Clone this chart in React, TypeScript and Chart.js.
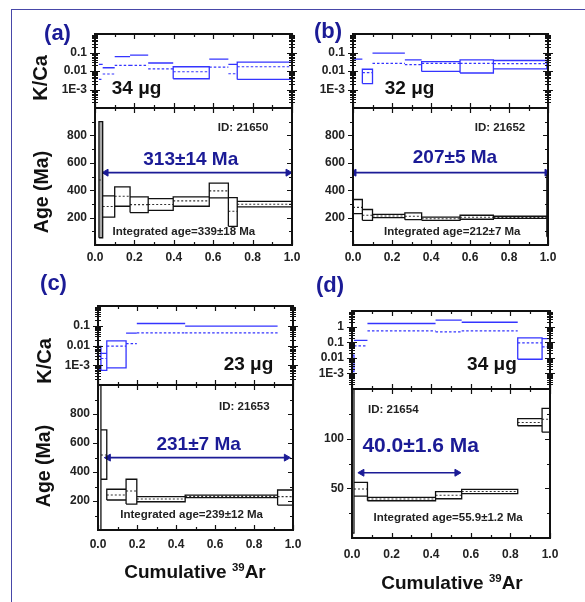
import React, { useEffect, useRef } from "react";
import { Chart, registerables } from "chart.js";
Chart.register(...registerables);

const FONT = "'Liberation Sans', Arial, Helvetica, sans-serif";
const NAVY = "#1b1b96";
const KCA_BLUE = "#3434ff";

// ---------------- Panel (a) : ID 21650 ----------------
const edgesA = [0.02, 0.039, 0.1, 0.178, 0.27, 0.397, 0.58, 0.677, 0.722, 1.0];
const ageMidA = [475, 281, 356, 295, 296, 322, 395, 246, 297];
const ageLowA = [53, 204, 283, 237, 253, 283, 344, 136, 278];
const ageHighA = [900, 358, 424, 351, 339, 351, 451, 346, 319];
const kcaMidA = [0.0035, 0.0069, 0.02, 0.02, 0.013, 0.0091, 0.016, 0.0071, 0.017];
const kcaLowA = [null, null, null, null, null, 0.0038, null, null, 0.0035];
const kcaHighA = [0.023, 0.015, 0.06, 0.072, 0.027, 0.017, 0.044, 0.023, 0.03];
const plateauSpanA = [0.056, 0.98];
const plateauAgeA = 528;

// ---------------- Panel (b) : ID 21652 ----------------
const edgesB = [0, 0.048, 0.1, 0.266, 0.352, 0.549, 0.72, 0.994, 1.0];
const ageMidB = [275, 217, 212, 210, 192, 203, 202, 280];
const ageLowB = [229, 180, 200, 185, 180, 188, 195, 60];
const ageHighB = [332, 259, 224, 234, 204, 217, 210, 510];
const kcaMidB = [null, 0.0081, 0.026, 0.022, 0.026, 0.026, 0.025, null];
const kcaLowB = [null, 0.0021, null, null, 0.0095, 0.0078, 0.013, null];
const kcaHighB = [0.044, 0.0124, 0.093, 0.04, 0.032, 0.04, 0.037, 0.04];
const plateauSpanB = [0.005, 0.995];
const plateauAgeB = 528;

// ---------------- Panel (c) : ID 21653 ----------------
const edgesC = [0, 0.015, 0.045, 0.144, 0.199, 0.447, 0.921, 1.0];
const ageMidC = [null, 517, 241, 269, 214, 232, 230];
const ageLowC = [0, 350, 207, 179, 195, 223, 172];
const ageHighC = [1100, 690, 281, 350, 230, 241, 276];
const kcaMidC = [0.003, 0.0022, 0.0094, 0.0124, 0.044, 0.044, null];
const kcaLowC = [0.0006, 0.00055, 0.00073, null, null, null, null];
const kcaHighC = [0.009, 0.004, 0.017, 0.042, 0.13, 0.096, null];
const plateauSpanC = [0.053, 0.966];
const plateauAgeC = 499;

// ---------------- Panel (d) : ID 21654 ----------------
const edgesD = [0, 0.01, 0.078, 0.422, 0.554, 0.837, 0.96, 1.0];
const ageMidD = [null, 49.3, 39.2, 43, 46.8, 116.3, 119.6];
const ageLowD = [5, 42.2, 37.5, 39.5, 44.7, 113, 106.5];
const ageHighD = [160, 55.9, 40.8, 46.7, 49, 120.2, 130.4];
const kcaMidD = [null, 0.058, 0.53, 0.46, 0.53, 0.091, 0.05];
const kcaLowD = [0.0013, null, null, null, null, 0.0081, null];
const kcaHighD = [0.015, 0.13, 1.58, 2.57, 1.9, 0.19, 0.17];
const plateauSpanD = [0.05, 0.53];
const plateauAgeD = 65.7;

// ---------------- axis ticks ----------------
const xTickLabels = [0, 0.2, 0.4, 0.6, 0.8, 1.0];
const ageTicksWide = [200, 400, 600, 800];
const ageTicksD = [50, 100];
const kcaTicks = [0.1, 0.01, 0.001];
const kcaTickText = ["0.1", "0.01", "1E-3"];
const kcaTicksD = [1, 0.1, 0.01, 0.001];
const kcaTickTextD = ["1", "0.1", "0.01", "1E-3"];

type Pt = { x: number; y: number | null };
type Ann = { text: string; x: number; y: number; align: CanvasTextAlign; size: number; color: string };
type Rect = { l: number; t: number; r: number; b: number };

function boxPts(edges: number[], lo: (number | null)[], hi: (number | null)[]): Pt[] {
  const pts: Pt[] = [];
  for (let i = 0; i < hi.length; i++) {
    const x0 = edges[i];
    const x1 = edges[i + 1];
    const h = hi[i];
    const l = lo[i];
    if (h == null) continue;
    if (l == null) {
      pts.push({ x: x0, y: h }, { x: x1, y: h }, { x: x1, y: null });
    } else {
      pts.push({ x: x0, y: l }, { x: x0, y: h }, { x: x1, y: h }, { x: x1, y: l }, { x: x0, y: l }, { x: x1, y: null });
    }
  }
  return pts;
}

function midPts(edges: number[], mid: (number | null)[]): Pt[] {
  const pts: Pt[] = [];
  for (let i = 0; i < mid.length; i++) {
    const m = mid[i];
    if (m == null) continue;
    pts.push({ x: edges[i], y: m }, { x: edges[i + 1], y: m }, { x: edges[i + 1], y: null });
  }
  return pts;
}

const lineDs = (data: Pt[], color: string, width: number, dash: number[] = []) => ({
  data,
  showLine: true,
  borderColor: color,
  borderWidth: width,
  borderDash: dash,
  pointRadius: 0,
  pointHoverRadius: 0,
  spanGaps: false,
  tension: 0,
  fill: false,
});

type SubProps = {
  rect: Rect;
  isAge: boolean;
  yMin: number;
  yMax: number;
  yLabelVals: number[];
  yLabelText: string[];
  yMajor?: number;
  xPad?: number;
  datasets: any[];
  anns: Ann[];
};

const PADL = 60;
const PADT = 24;
const PADR = 22;

function SubPlot(p: SubProps) {
  const ref = useRef<HTMLCanvasElement>(null);
  const padB = p.isAge ? 34 : 24;
  const w = p.rect.r - p.rect.l + PADL + PADR;
  const h = p.rect.b - p.rect.t + PADT + padB;

  useEffect(() => {
    const tickFont = { family: FONT, size: 12, weight: "bold" as const };
    const yMarks: { v: number; major: boolean }[] = [];
    if (p.isAge) {
      const maj = p.yMajor as number;
      const minStep = maj / 2;
      for (let v = p.yMin; v <= p.yMax + 1e-9; v += minStep) {
        yMarks.push({ v, major: Math.abs(v / maj - Math.round(v / maj)) < 1e-6 });
      }
    } else {
      const k0 = Math.floor(Math.log10(p.yMin));
      const k1 = Math.ceil(Math.log10(p.yMax));
      for (let k = k0; k <= k1; k++) {
        for (let m = 1; m <= 9; m++) {
          const v = m * Math.pow(10, k);
          if (v >= p.yMin * 0.999 && v <= p.yMax * 1.001) yMarks.push({ v, major: m === 1 });
        }
      }
    }

    const framePlugin = {
      id: "frame",
      afterDatasetsDraw(chart: any) {
        const { ctx, chartArea: a } = chart;
        const xs = chart.scales.x;
        const ys = chart.scales.y;
        ctx.save();
        ctx.strokeStyle = "#111";
        ctx.lineWidth = 1.2;
        ctx.beginPath();
        for (let i = 0; i <= 10; i++) {
          const px = Math.round(xs.getPixelForValue(i / 10)) + 0.5;
          const L = i % 2 === 0 ? 5 : 3;
          ctx.moveTo(px, a.bottom);
          ctx.lineTo(px, a.bottom - L);
          ctx.moveTo(px, a.top);
          ctx.lineTo(px, a.top + L);
        }
        for (const mk of yMarks) {
          const py = Math.round(ys.getPixelForValue(mk.v)) + 0.5;
          if (py < a.top + 1 || py > a.bottom - 1) continue;
          const L = mk.major ? 5 : 3;
          const inL = p.isAge ? 0 : L;
          ctx.moveTo(a.left - L, py);
          ctx.lineTo(a.left + inL, py);
          ctx.moveTo(a.right - L, py);
          ctx.lineTo(a.right + inL, py);
        }
        ctx.stroke();
        ctx.lineWidth = 2;
        ctx.strokeRect(a.left, a.top, a.right - a.left, a.bottom - a.top);
        for (const an of p.anns) {
          ctx.font = `bold ${an.size}px ${FONT}`;
          ctx.fillStyle = an.color;
          ctx.textAlign = an.align;
          ctx.textBaseline = "middle";
          ctx.fillText(an.text, xs.getPixelForValue(an.x), ys.getPixelForValue(an.y));
        }
        ctx.restore();
      },
    };

    const chart = new Chart(ref.current as HTMLCanvasElement, {
      type: "scatter",
      data: { datasets: p.datasets },
      options: {
        animation: false,
        responsive: false,
        maintainAspectRatio: false,
        events: [],
        layout: { padding: { left: 0, top: PADT, right: PADR, bottom: p.isAge ? 0 : padB } },
        plugins: { legend: { display: false }, tooltip: { enabled: false } },
        scales: {
          x: {
            type: "linear",
            min: 0,
            max: 1,
            display: p.isAge,
            grid: { display: false, drawTicks: false },
            border: { display: false },
            afterBuildTicks: (s: any) => {
              s.ticks = xTickLabels.map((v) => ({ value: v }));
            },
            ticks: {
              font: tickFont,
              color: "#222",
              padding: p.xPad ?? 5,
              maxRotation: 0,
              autoSkip: false,
              callback: (v: any) => Number(v).toFixed(1),
            },
            ...(p.isAge ? { afterFit: (s: any) => { s.height = padB; } } : {}),
          },
          y: {
            type: p.isAge ? "linear" : "logarithmic",
            min: p.yMin,
            max: p.yMax,
            grid: { display: false, drawTicks: false },
            border: { display: false },
            afterBuildTicks: (s: any) => {
              s.ticks = p.yLabelVals.map((v) => ({ value: v }));
            },
            afterFit: (s: any) => {
              s.width = PADL;
            },
            ticks: {
              font: tickFont,
              color: "#222",
              padding: 8,
              autoSkip: false,
              callback: (v: any) => {
                const i = p.yLabelVals.findIndex((u) => Math.abs(u - Number(v)) < 1e-9 * Math.max(1, Math.abs(u)));
                return i >= 0 ? p.yLabelText[i] : "";
              },
            },
          },
        },
      } as any,
      plugins: [framePlugin],
    });
    return () => chart.destroy();
  }, []);

  return (
    <canvas
      ref={ref}
      width={w}
      height={h}
      style={{ position: "absolute", left: p.rect.l - PADL, top: p.rect.t - PADT, width: w, height: h }}
    />
  );
}

type PanelDef = {
  key: string;
  kcaRect: Rect;
  ageRect: Rect;
  xPad: number;
  edges: number[];
  ageMid: (number | null)[];
  ageLow: number[];
  ageHigh: number[];
  kcaMid: (number | null)[];
  kcaLow: (number | null)[];
  kcaHigh: (number | null)[];
  shadeFirst: boolean;
  plateauSpan: number[];
  plateauAge: number;
  ageMax: number;
  ageLabels: number[];
  ageMajor: number;
  kcaMax: number;
  kcaLabels: number[];
  kcaText: string[];
  ageAnns: Ann[];
  kcaAnns: Ann[];
};

const panels: PanelDef[] = [
  {
    key: "a",
    kcaRect: { l: 95, t: 34, r: 292, b: 108 },
    ageRect: { l: 95, t: 108, r: 292, b: 245 },
    xPad: 5,
    edges: edgesA, ageMid: ageMidA, ageLow: ageLowA, ageHigh: ageHighA,
    kcaMid: kcaMidA, kcaLow: kcaLowA, kcaHigh: kcaHighA, shadeFirst: true,
    plateauSpan: plateauSpanA, plateauAge: plateauAgeA,
    ageMax: 1000, ageLabels: ageTicksWide, ageMajor: 200,
    kcaMax: 1, kcaLabels: kcaTicks, kcaText: kcaTickText,
    ageAnns: [
      { text: "313±14 Ma", x: 0.486, y: 620, align: "center", size: 19, color: NAVY },
      { text: "ID: 21650", x: 0.88, y: 852, align: "right", size: 11.5, color: "#222" },
      { text: "Integrated age=339±18 Ma", x: 0.451, y: 93, align: "center", size: 11.5, color: "#222" },
    ],
    kcaAnns: [{ text: "34 μg", x: 0.085, y: 0.0011, align: "left", size: 19, color: "#111" }],
  },
  {
    key: "b",
    kcaRect: { l: 353, t: 34, r: 548, b: 108 },
    ageRect: { l: 353, t: 108, r: 548, b: 245 },
    xPad: 5,
    edges: edgesB, ageMid: ageMidB, ageLow: ageLowB, ageHigh: ageHighB,
    kcaMid: kcaMidB, kcaLow: kcaLowB, kcaHigh: kcaHighB, shadeFirst: false,
    plateauSpan: plateauSpanB, plateauAge: plateauAgeB,
    ageMax: 1000, ageLabels: ageTicksWide, ageMajor: 200,
    kcaMax: 1, kcaLabels: kcaTicks, kcaText: kcaTickText,
    ageAnns: [
      { text: "207±5 Ma", x: 0.523, y: 636, align: "center", size: 19, color: NAVY },
      { text: "ID: 21652", x: 0.883, y: 852, align: "right", size: 11.5, color: "#222" },
      { text: "Integrated age=212±7 Ma", x: 0.509, y: 93, align: "center", size: 11.5, color: "#222" },
    ],
    kcaAnns: [{ text: "32 μg", x: 0.163, y: 0.0011, align: "left", size: 19, color: "#111" }],
  },
  {
    key: "c",
    kcaRect: { l: 98, t: 306, r: 293, b: 385 },
    ageRect: { l: 98, t: 385, r: 293, b: 530 },
    xPad: 7,
    edges: edgesC, ageMid: ageMidC, ageLow: ageLowC, ageHigh: ageHighC,
    kcaMid: kcaMidC, kcaLow: kcaLowC, kcaHigh: kcaHighC, shadeFirst: false,
    plateauSpan: plateauSpanC, plateauAge: plateauAgeC,
    ageMax: 1000, ageLabels: ageTicksWide, ageMajor: 200,
    kcaMax: 1, kcaLabels: kcaTicks, kcaText: kcaTickText,
    ageAnns: [
      { text: "231±7 Ma", x: 0.516, y: 590, align: "center", size: 19, color: NAVY },
      { text: "ID: 21653", x: 0.88, y: 850, align: "right", size: 11.5, color: "#222" },
      { text: "Integrated age=239±12 Ma", x: 0.48, y: 103, align: "center", size: 11.5, color: "#222" },
    ],
    kcaAnns: [{ text: "23 μg", x: 0.899, y: 0.001, align: "right", size: 19, color: "#111" }],
  },
  {
    key: "d",
    kcaRect: { l: 352, t: 311, r: 550, b: 389 },
    ageRect: { l: 352, t: 389, r: 550, b: 538 },
    xPad: 9,
    edges: edgesD, ageMid: ageMidD, ageLow: ageLowD, ageHigh: ageHighD,
    kcaMid: kcaMidD, kcaLow: kcaLowD, kcaHigh: kcaHighD, shadeFirst: false,
    plateauSpan: plateauSpanD, plateauAge: plateauAgeD,
    ageMax: 150, ageLabels: ageTicksD, ageMajor: 50,
    kcaMax: 10, kcaLabels: kcaTicksD, kcaText: kcaTickTextD,
    ageAnns: [
      { text: "40.0±1.6 Ma", x: 0.347, y: 92.8, align: "center", size: 21, color: NAVY },
      { text: "ID: 21654", x: 0.081, y: 128.9, align: "left", size: 11.5, color: "#222" },
      { text: "Integrated age=55.9±1.2 Ma", x: 0.485, y: 20.4, align: "center", size: 11.5, color: "#222" },
    ],
    kcaAnns: [{ text: "34 μg", x: 0.832, y: 0.0035, align: "right", size: 19, color: "#111" }],
  },
];

function ageDatasets(pd: PanelDef) {
  const ds: any[] = [
    lineDs(boxPts(pd.edges, pd.ageLow, pd.ageHigh), "#111", 1.3),
    lineDs(midPts(pd.edges, pd.ageMid), "#333", 1.1, [2, 2]),
    {
      data: [
        { x: pd.plateauSpan[0], y: pd.plateauAge },
        { x: pd.plateauSpan[1], y: pd.plateauAge },
      ],
      showLine: true,
      borderColor: NAVY,
      borderWidth: 1.6,
      pointStyle: "triangle",
      pointRadius: 4,
      pointHoverRadius: 4,
      pointRotation: [-90, 90],
      pointBackgroundColor: NAVY,
      pointBorderColor: NAVY,
      pointBorderWidth: 1,
      fill: false,
    },
  ];
  if (pd.shadeFirst) {
    ds.push({
      ...lineDs(boxPts(pd.edges.slice(0, 2), pd.ageLow.slice(0, 1), pd.ageHigh.slice(0, 1)), "rgba(0,0,0,0)", 0),
      fill: "shape",
      backgroundColor: "#a8a8a8",
    });
  }
  return ds;
}

function kcaDatasets(pd: PanelDef) {
  return [
    lineDs(boxPts(pd.edges, pd.kcaLow, pd.kcaHigh), KCA_BLUE, 1.3),
    lineDs(midPts(pd.edges, pd.kcaMid), KCA_BLUE, 1.2, [2.5, 2]),
  ];
}

const T = (props: { x: number; y: number; size: number; color: string; rotate?: boolean; children: any }) => (
  <div
    style={{
      position: "absolute",
      left: props.x,
      top: props.y,
      transform: `translate(-50%, -50%)${props.rotate ? " rotate(-90deg)" : ""}`,
      fontSize: props.size,
      fontWeight: "bold",
      color: props.color,
      whiteSpace: "nowrap",
      lineHeight: 1,
      fontFamily: FONT,
    }}
  >
    {props.children}
  </div>
);

const xTitle = (
  <>
    Cumulative <sup style={{ fontSize: "0.6em", verticalAlign: "0.6em", lineHeight: 0 }}>39</sup>Ar
  </>
);

export default function App() {
  return (
    <div style={{ position: "absolute", left: 0, top: 0, width: 585, height: 602, background: "#fff", overflow: "hidden" }}>
      <div
        style={{
          position: "absolute",
          left: 11,
          top: 9,
          width: 580,
          height: 600,
          borderTop: "1.5px solid #4848a8",
          borderLeft: "1.5px solid #4848a8",
        }}
      />
      {panels.map((pd) => (
        <React.Fragment key={pd.key}>
          <SubPlot
            rect={pd.kcaRect}
            isAge={false}
            yMin={0.0001}
            yMax={pd.kcaMax}
            yLabelVals={pd.kcaLabels}
            yLabelText={pd.kcaText}
            datasets={kcaDatasets(pd)}
            anns={pd.kcaAnns}
          />
          <SubPlot
            rect={pd.ageRect}
            isAge={true}
            yMin={0}
            yMax={pd.ageMax}
            yLabelVals={pd.ageLabels}
            yLabelText={pd.ageLabels.map((v) => String(v))}
            yMajor={pd.ageMajor}
            xPad={pd.xPad}
            datasets={ageDatasets(pd)}
            anns={pd.ageAnns}
          />
        </React.Fragment>
      ))}
      <T x={57.5} y={32.5} size={22} color={NAVY}>(a)</T>
      <T x={328} y={31} size={22} color={NAVY}>(b)</T>
      <T x={53.5} y={283} size={22} color={NAVY}>(c)</T>
      <T x={330} y={285} size={22} color={NAVY}>(d)</T>
      <T x={40} y={78} size={20} color="#111" rotate>K/Ca</T>
      <T x={42} y={191.7} size={19.5} color="#111" rotate>Age (Ma)</T>
      <T x={44} y={361} size={20} color="#111" rotate>K/Ca</T>
      <T x={44} y={466} size={19.5} color="#111" rotate>Age (Ma)</T>
      <T x={195} y={571} size={19} color="#111">{xTitle}</T>
      <T x={452} y={582} size={19} color="#111">{xTitle}</T>
    </div>
  );
}
